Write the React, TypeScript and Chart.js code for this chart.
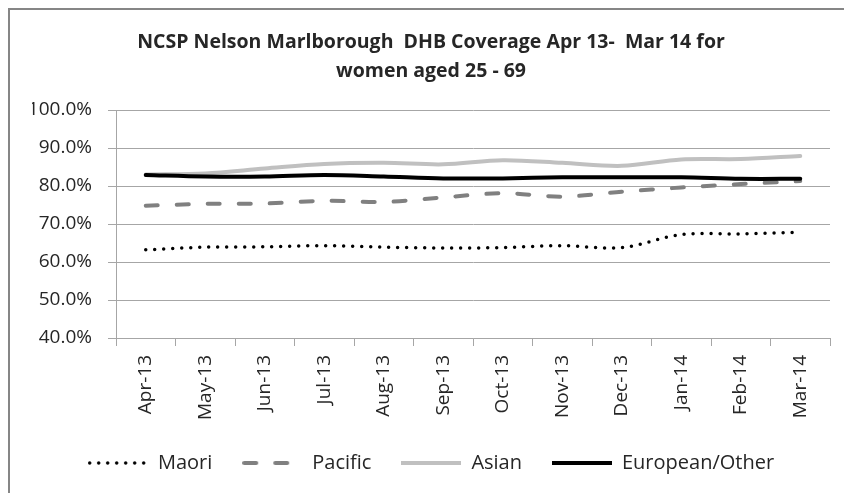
import { useEffect, useRef } from "react";
import { Chart, registerables } from "chart.js";

Chart.register(...registerables);

const categories = ["Apr-13", "May-13", "Jun-13", "Jul-13", "Aug-13", "Sep-13", "Oct-13", "Nov-13", "Dec-13", "Jan-14", "Feb-14", "Mar-14"];
const maori = [63.2, 63.9, 64.0, 64.3, 63.9, 63.7, 63.8, 64.3, 63.8, 67.2, 67.4, 67.8];
const pacific = [74.8, 75.3, 75.4, 76.1, 75.8, 77.0, 78.1, 77.2, 78.5, 79.6, 80.5, 81.3];
const asian = [83.0, 83.3, 84.6, 85.8, 86.1, 85.7, 86.8, 86.1, 85.3, 87.0, 87.1, 87.9];
const european = [82.9, 82.5, 82.5, 82.9, 82.5, 82.0, 82.0, 82.3, 82.3, 82.3, 81.9, 81.9];
const titleLines = ["NCSP Nelson Marlborough  DHB Coverage Apr 13-  Mar 14 for", "women aged 25 - 69"];
const yMin = 40;
const yMax = 100;
const yStep = 10;

const FONT = "'Open Sans', 'DejaVu Sans', sans-serif";
const TEXT = "#262626";
const GRID = "#a6a6a6";
const W = 844;
const H = 493;

type LineStyle = { color: string; width: number; dash: number[]; cap: CanvasLineCap };

const styles: Record<string, LineStyle> = {
  european: { color: "#000000", width: 4, dash: [], cap: "butt" },
  asian: { color: "#c0c0c0", width: 4, dash: [], cap: "butt" },
  pacific: { color: "#808080", width: 4, dash: [12, 19], cap: "round" },
  maori: { color: "#000000", width: 3.5, dash: [0, 9], cap: "round" },
};

function legendSample(s: LineStyle): HTMLCanvasElement {
  const c = document.createElement("canvas");
  c.width = 60;
  c.height = 10;
  const ctx = c.getContext("2d")!;
  ctx.strokeStyle = s.color;
  ctx.lineWidth = s.width;
  ctx.lineCap = s.cap;
  ctx.setLineDash(s.dash);
  const inset = s.cap === "round" ? s.width / 2 : 0;
  ctx.beginPath();
  ctx.moveTo(inset, 5);
  ctx.lineTo(60 - inset, 5);
  ctx.stroke();
  return c;
}

function ds(label: string, data: number[], s: LineStyle) {
  return {
    label,
    data,
    borderColor: s.color,
    backgroundColor: s.color,
    borderWidth: s.width,
    borderDash: s.dash,
    borderCapStyle: s.cap === "butt" ? "round" : s.cap,
    pointRadius: 0,
    pointHoverRadius: 0,
    pointStyle: legendSample(s),
    tension: 0.33,
  };
}

export default function App() {
  const ref = useRef<HTMLCanvasElement | null>(null);

  useEffect(() => {
    if (!ref.current) return;
    const chart = new Chart(ref.current, {
      type: "line",
      data: {
        labels: categories,
        datasets: [
          ds("European/Other", european, styles.european),
          ds("Asian", asian, styles.asian),
          ds("Pacific", pacific, styles.pacific),
          ds("Maori", maori, styles.maori),
        ] as any,
      },
      options: {
        responsive: false,
        animation: false,
        devicePixelRatio: 1,
        layout: { padding: { left: 32, right: 14, top: 0, bottom: 10 } },
        plugins: {
          title: {
            display: true,
            text: titleLines,
            color: TEXT,
            font: { family: FONT, size: 19.5, weight: "bold", lineHeight: 1.5 },
            padding: { top: 27.4, bottom: 24.1 },
          },
          legend: {
            position: "bottom",
            reverse: true,
            labels: {
              usePointStyle: true,
              pointStyleWidth: 60,
              padding: 30,
              color: TEXT,
              font: { family: FONT, size: 20 },
            },
          },
          tooltip: { enabled: false },
        },
        scales: {
          x: {
            offset: true,
            afterFit: (scale: any) => {
              scale.height = 85;
            },
            grid: {
              display: true,
              drawOnChartArea: false,
              drawTicks: true,
              tickLength: 8,
              color: GRID,
              offset: true,
            },
            border: { display: true, color: GRID },
            ticks: {
              autoSkip: false,
              minRotation: 90,
              maxRotation: 90,
              padding: 9,
              color: TEXT,
              font: { family: FONT, size: 19 },
            },
          },
          y: {
            min: yMin,
            max: yMax,
            afterFit: (scale: any) => {
              scale.width = 84;
            },
            grid: { color: GRID, tickLength: 8, drawTicks: true },
            border: { display: true, color: GRID },
            ticks: {
              stepSize: yStep,
              padding: 16,
              color: TEXT,
              font: { family: FONT, size: 19 },
              callback: (v: any) => Number(v).toFixed(1) + "%",
            },
          },
        },
      },
    });
    return () => chart.destroy();
  }, []);

  return (
    <div
      style={{
        position: "fixed",
        left: 0,
        top: 0,
        width: W,
        height: H,
        overflow: "hidden",
        background: "#ffffff",
      }}
    >
      <div
        style={{
          position: "absolute",
          left: 8,
          top: 8,
          width: W + 40,
          height: H + 40,
          borderLeft: "2px solid #868686",
          borderTop: "2px solid #868686",
        }}
      />
      <canvas
        ref={ref}
        width={W}
        height={H}
        style={{ position: "absolute", left: 0, top: 0, width: W, height: H }}
      />
    </div>
  );
}
